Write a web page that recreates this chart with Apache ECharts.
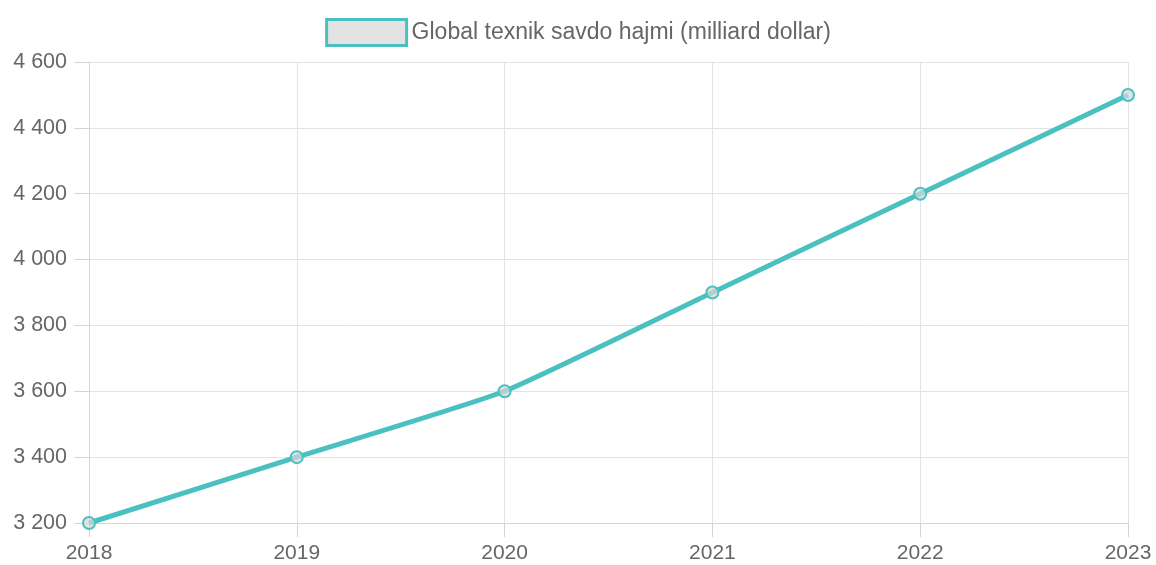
<!DOCTYPE html>
<html>
<head>
<meta charset="utf-8">
<script src="https://cdn.jsdelivr.net/npm/echarts@6/dist/echarts.min.js"></script>
<style>html,body{margin:0;padding:0;background:#fff}#c{width:1156px;height:565px}</style>
</head>
<body>
<div id="c"></div>
<script>
const years = ['2018','2019','2020','2021','2022','2023'];
const tradeVolume = [3200, 3400, 3600, 3900, 4200, 4500];
const seriesName = 'Global texnik savdo hajmi (milliard dollar)';

const chart = echarts.init(document.getElementById('c'), null, {renderer:'canvas'});
const font = 'Liberation Sans, Arial, sans-serif';
const gridColor = '#e3e3e3';
chart.setOption({
  animation: false,
  textStyle: {fontFamily: font},
  legend: {
    top: 13,
    left: 'center',
    icon: 'rect',
    itemWidth: 80,
    itemHeight: 26,
    itemGap: 10,
    itemStyle: {color: '#e3e3e3', borderColor: '#4bc0c0', borderWidth: 3},
    textStyle: {fontSize: 23, color: '#666', fontFamily: font},
    data: [seriesName]
  },
  grid: {left: 89, right: 28, top: 62, bottom: 42, containLabel: false},
  xAxis: {
    type: 'category',
    data: years,
    boundaryGap: false,
    axisLine: {lineStyle: {color: '#d6d6d6'}},
    axisTick: {show: true, length: 14, lineStyle: {color: '#d4d4d4'}},
    splitLine: {show: true, lineStyle: {color: gridColor}},
    axisLabel: {fontSize: 21, color: '#666', margin: 20, fontFamily: font}
  },
  yAxis: {
    type: 'value',
    min: 3200, max: 4600, interval: 200,
    axisLine: {show: true, lineStyle: {color: '#d6d6d6'}},
    axisTick: {show: true, length: 15, lineStyle: {color: '#d4d4d4'}},
    splitLine: {show: true, lineStyle: {color: gridColor}},
    axisLabel: {
      fontSize: 21.5, color: '#666', margin: 22, fontFamily: font,
      formatter: v => String(v).replace(/\B(?=(\d{3})+(?!\d))/g, ' ')
    }
  },
  series: [{
    name: seriesName,
    type: 'line',
    data: tradeVolume,
    smooth: 0.15,
    symbol: 'circle',
    symbolSize: 12,
    lineStyle: {color: '#4bc0c0', width: 5},
    itemStyle: {color: 'rgba(215,215,215,0.7)', borderColor: '#4bc0c0', borderWidth: 2}
  }]
});
</script>
</body>
</html>
